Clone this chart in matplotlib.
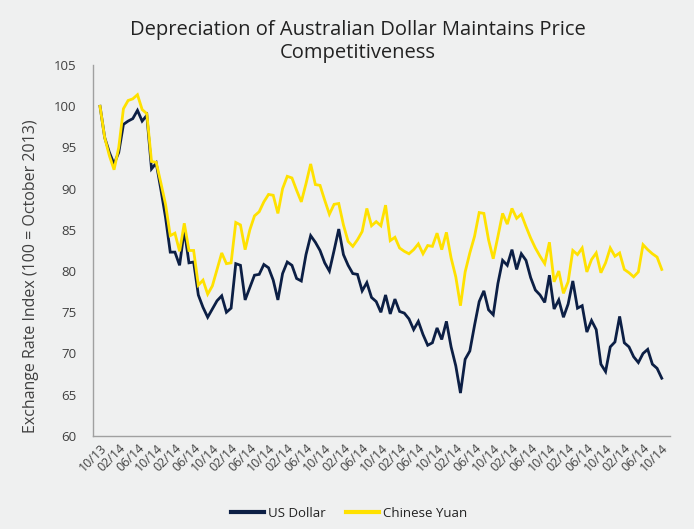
import matplotlib
matplotlib.use("Agg")
import matplotlib.pyplot as plt
import numpy as np

# month-end index values, Oct 2013 = 100
usd = [100.0, 96.2, 94.4, 93.0, 94.4, 97.8, 98.2, 98.5, 99.5, 98.2,
       98.9, 92.4, 93.1, 89.9, 86.5, 82.3, 82.3, 80.7, 85.0, 81.0,
       81.1, 77.1, 75.6, 74.4, 75.4, 76.4, 77.0, 75.0, 75.5, 80.9,
       80.7, 76.5, 78.0, 79.5, 79.6, 80.8, 80.4, 78.9, 76.5, 79.7,
       81.1, 80.7, 79.1, 78.8, 82.0, 84.3, 83.5, 82.5, 81.0, 80.0,
       82.5, 85.1, 82.0, 80.7, 79.7, 79.6, 77.6, 78.6, 76.8, 76.3,
       75.0, 77.1, 74.8, 76.6, 75.1, 74.9, 74.2, 72.9, 73.9, 72.3,
       71.0, 71.3, 73.1, 71.7, 73.9, 70.8, 68.5, 65.2, 69.3, 70.3,
       73.4, 76.3, 77.6, 75.3, 74.7, 78.5, 81.3, 80.7, 82.6, 80.2,
       82.1, 81.3, 79.2, 77.7, 77.1, 76.2, 79.5, 75.4, 76.5, 74.4,
       76.0, 78.8, 75.5, 75.8, 72.6, 74.0, 72.9, 68.7, 67.8, 70.8,
       71.4, 74.5, 71.3, 70.8, 69.6, 68.9, 70.0, 70.5, 68.7, 68.2,
       67.0]

cny = [100.0, 96.2, 94.0, 92.3, 95.0, 99.7, 100.7, 100.9, 101.4, 99.6,
       99.1, 93.3, 93.2, 90.7, 88.1, 84.3, 84.6, 82.4, 85.8, 82.5,
       82.5, 78.3, 78.9, 77.2, 78.2, 80.2, 82.2, 80.9, 81.0, 85.9,
       85.6, 82.6, 85.0, 86.7, 87.2, 88.4, 89.3, 89.2, 87.0, 90.0,
       91.5, 91.3, 89.8, 88.4, 90.6, 93.0, 90.5, 90.4, 88.6, 86.9,
       88.1, 88.2, 85.6, 83.6, 83.0, 83.8, 84.8, 87.6, 85.5, 86.0,
       85.5, 88.0, 83.7, 84.1, 82.8, 82.4, 82.1, 82.6, 83.3, 82.1,
       83.1, 83.0, 84.6, 82.6, 84.7, 81.6, 79.3, 75.8, 79.9, 82.2,
       84.2, 87.1, 87.0, 83.8, 81.5, 84.2, 87.0, 85.7, 87.6, 86.4,
       86.9, 85.4, 84.0, 82.8, 81.8, 80.9, 83.5, 78.7, 80.0, 77.3,
       78.7, 82.5, 82.0, 82.8, 79.9, 81.4, 82.2, 79.8, 81.0, 82.8,
       81.8, 82.2, 80.2, 79.8, 79.3, 79.9, 83.2, 82.6, 82.1, 81.7,
       80.2]

# axis labels as printed on the original (every 4th month)
tick_labels = ["10/13"] + ["02/14", "06/14", "10/14"] * 10

BG = "#eff0f0"
NAVY = "#0c1f45"
YELLOW = "#ffe100"
GREY = "#404040"


def main():
    plt.rcParams['font.family'] = ['Open Sans', 'DejaVu Sans']
    fig = plt.figure(figsize=(6.94, 5.29), dpi=100, facecolor=BG)
    ax = fig.add_axes([0.134, 0.176, 0.831, 0.701], facecolor=BG)

    x = np.arange(len(usd))
    ax.plot(x, usd, color=NAVY, lw=2.0, label="US Dollar", solid_joinstyle="miter")
    ax.plot(x, cny, color=YELLOW, lw=2.0, label="Chinese Yuan", solid_joinstyle="miter")

    ax.set_xlim(-1.5, 121.7)
    ax.set_ylim(60, 105)
    ax.set_yticks(np.arange(60, 106, 5))
    ax.set_xticks(np.arange(0, len(usd), 4))
    ax.set_xticklabels(tick_labels, rotation=45, ha="right", va="top",
                       rotation_mode="anchor")

    for s in ["top", "right"]:
        ax.spines[s].set_visible(False)
    for s in ["left", "bottom"]:
        ax.spines[s].set_color("#a0a0a0")
        ax.spines[s].set_linewidth(1.0)
    ax.tick_params(axis="both", length=0, colors=GREY, labelsize=9.5)
    ax.tick_params(axis="y", pad=12)
    ax.tick_params(axis="x", pad=4, labelsize=9)

    ax.set_ylabel("Exchange Rate Index (100 = October 2013)", fontsize=11.5,
                  color=GREY)
    ax.yaxis.set_label_coords(-0.094, 0.43)
    fig.text(0.515, 0.962, "Depreciation of Australian Dollar Maintains Price\nCompetitiveness",
             ha="center", va="top", fontsize=14.5, color="#222222", linespacing=1.2)

    leg = fig.legend(loc="center", bbox_to_anchor=(0.503, 0.03), ncol=2, frameon=False,
                     fontsize=9.5, handlelength=2.5, handletextpad=0.25,
                     columnspacing=1.6, labelcolor="#222222")
    for h in leg.get_lines():
        h.set_linewidth(3.0)

    fig.savefig("out.png", dpi=100, facecolor=BG)


if __name__ == "__main__":
    main()
